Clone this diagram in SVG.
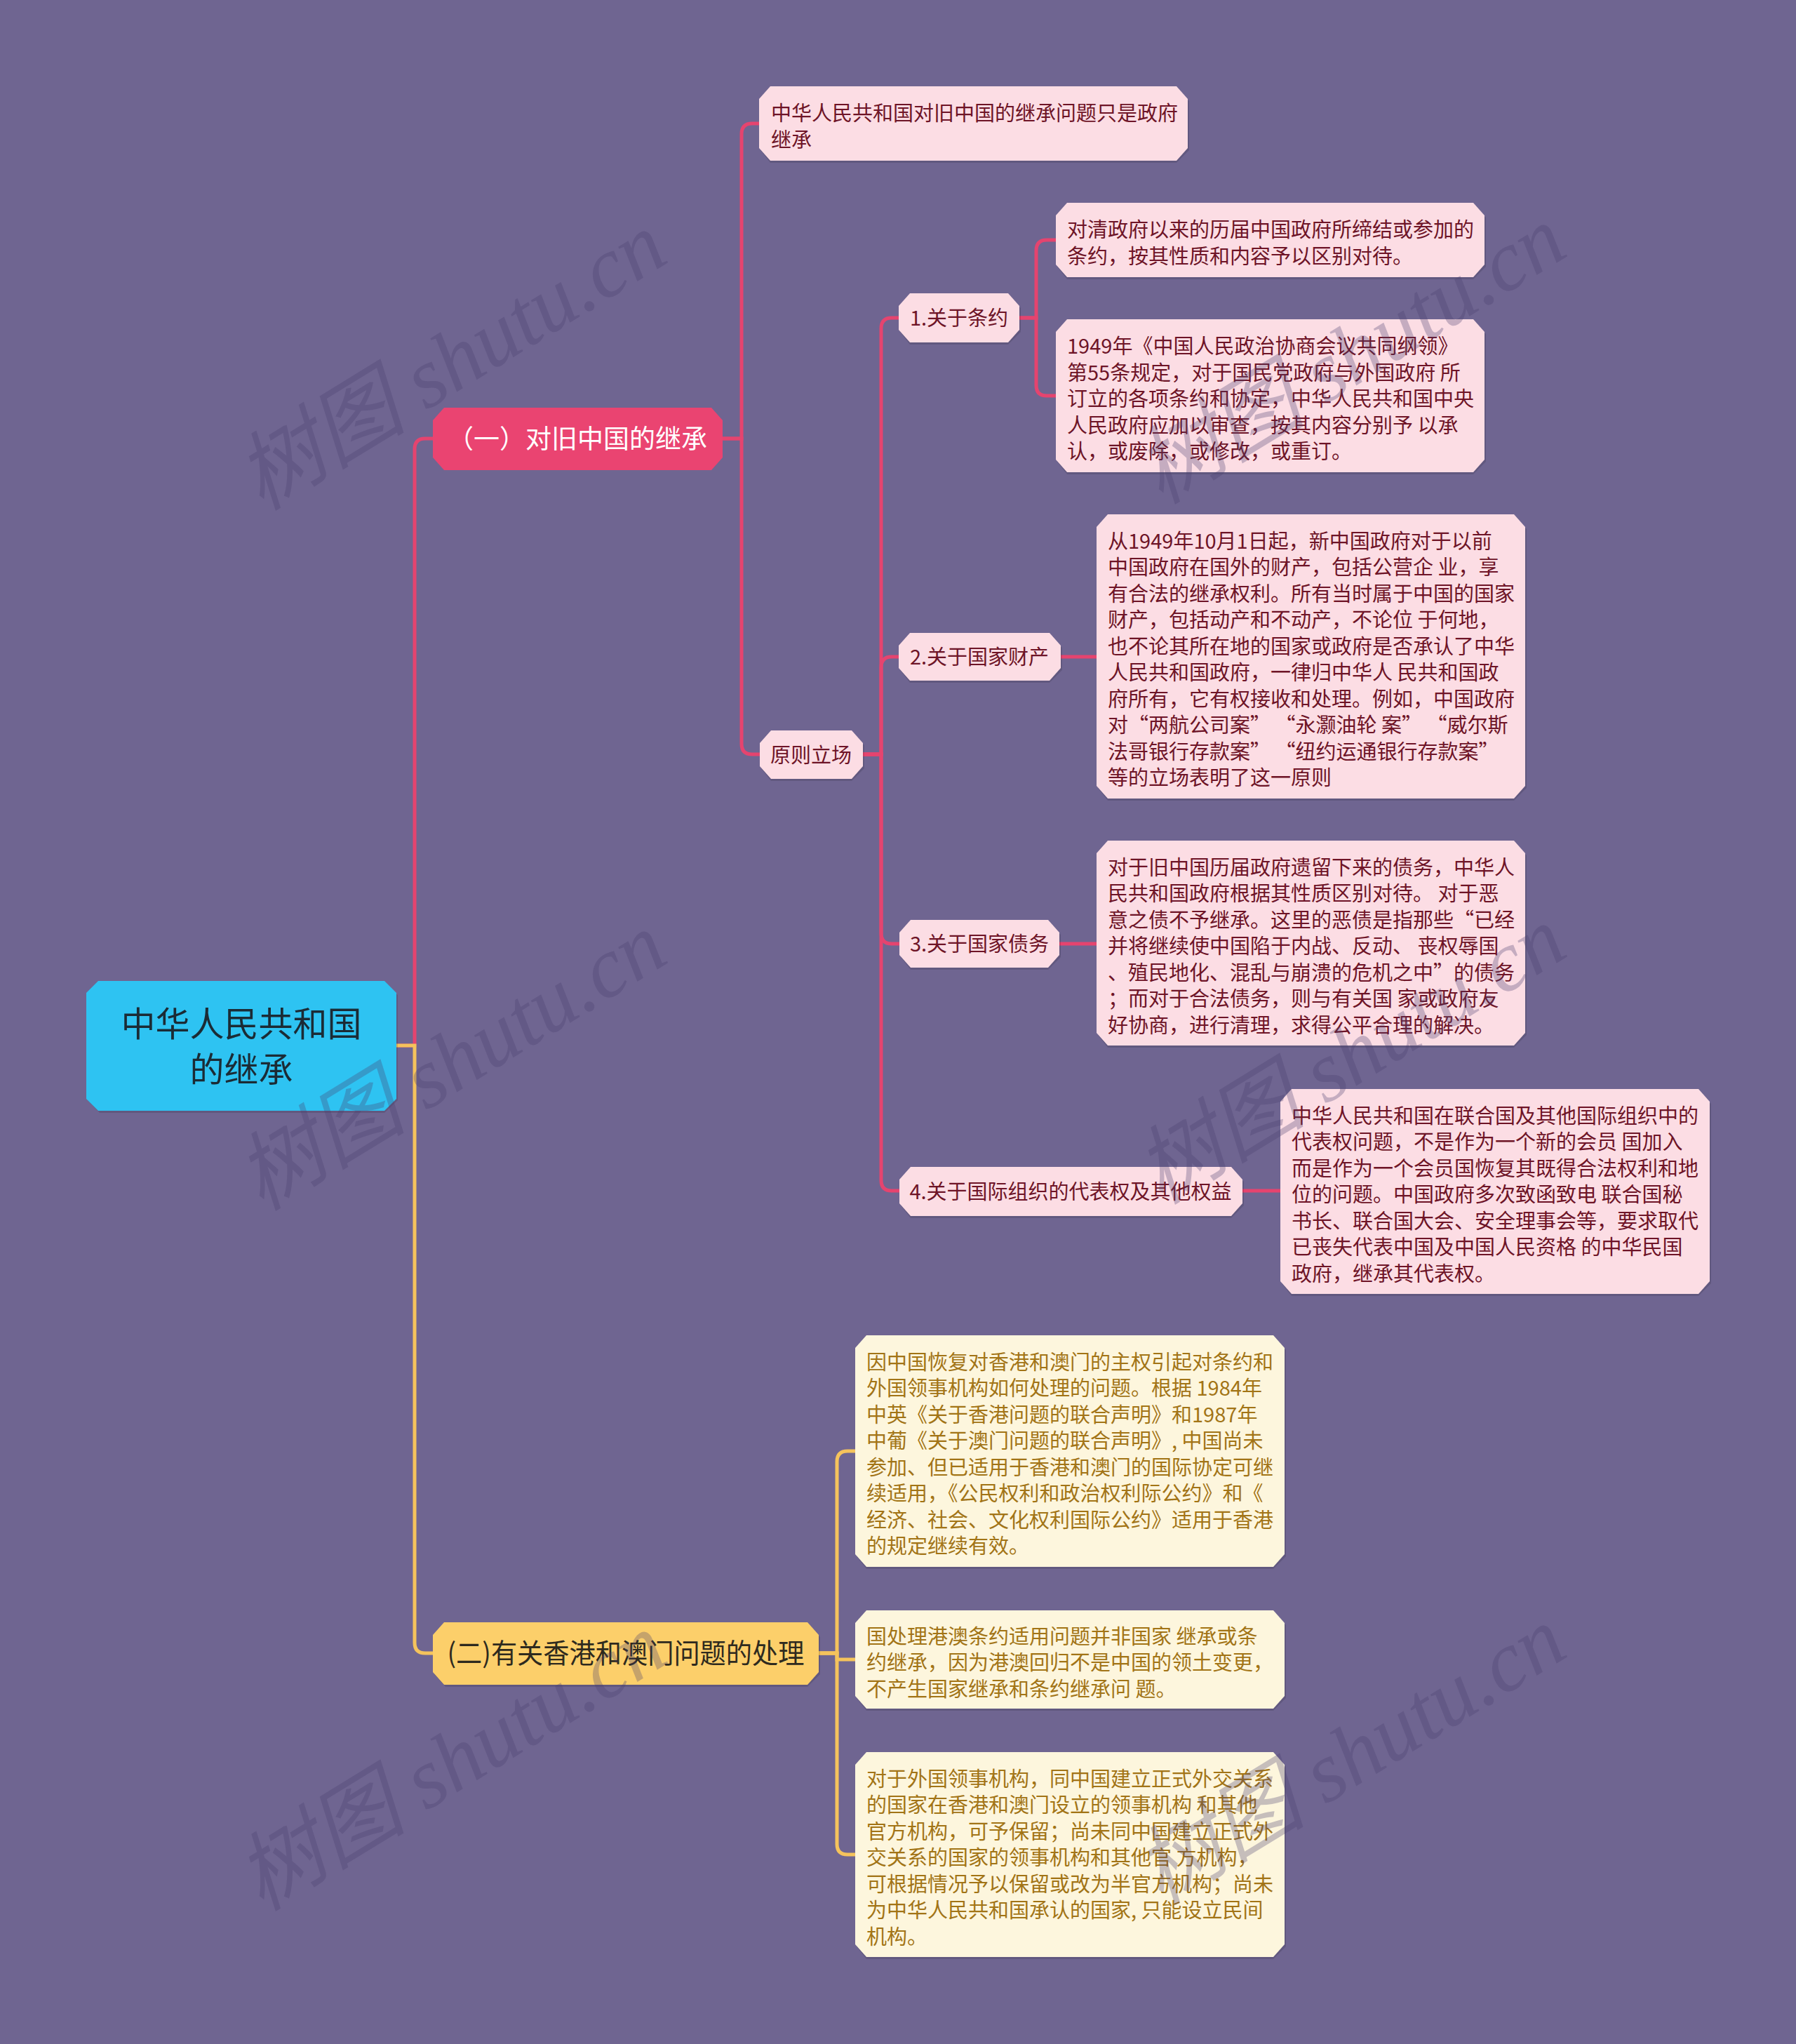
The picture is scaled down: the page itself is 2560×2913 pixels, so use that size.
<svg xmlns="http://www.w3.org/2000/svg" width="2560" height="2913" viewBox="0 0 2560 2913">
<style>
.bg{fill:#6f6591}
.cr{fill:none;stroke:#e5446f;stroke-width:5}
.cy{fill:none;stroke:#f5c35c;stroke-width:5}
.sh{fill:#000;opacity:0.12}
.root{fill:#2ec3f2}
.red{fill:#ea4471}
.pink{fill:#fcdde4}
.yel{fill:#fccf6a}
.cream{fill:#fdf6dd}
text{font-family:"Noto Sans CJK SC","Noto Sans",sans-serif}
.tr{font-size:49px;fill:#1b2b35;text-anchor:middle}
.t1{font-size:37px;fill:#ffffff;text-anchor:middle}
.t2{font-size:39px;fill:#2e2a1e;text-anchor:middle}
.tl{font-size:29px;fill:#6e1427;text-anchor:middle}
.tp{font-size:29px;fill:#6e1427}
.tc{font-size:29px;fill:#a27416}
.wm{font-family:"Liberation Serif","Noto Sans CJK SC",serif;font-style:italic;font-size:122px;fill:#4a3f6e;opacity:0.3;text-anchor:middle}
</style>
<rect class="bg" x="0" y="0" width="2560" height="2913"/>
<g id="connectors">
<path class="cr" d="M565,1490 H591 V640 Q591,625 606,625 H617"/>
<path class="cr" d="M1030,625 H1057 V191 Q1057,176 1072,176 H1082"/>
<path class="cr" d="M1030,625 H1057 V1060 Q1057,1075 1072,1075 H1083"/>
<path class="cr" d="M1230,1075 H1256 V468 Q1256,453 1271,453 H1281"/>
<path class="cr" d="M1230,1075 H1256 V951 Q1256,936 1271,936 H1281"/>
<path class="cr" d="M1230,1075 H1256 V1330 Q1256,1345 1271,1345 H1282"/>
<path class="cr" d="M1230,1075 H1256 V1682 Q1256,1697 1271,1697 H1282"/>
<path class="cr" d="M1453,453 H1477 V357 Q1477,342 1492,342 H1505"/>
<path class="cr" d="M1453,453 H1477 V549 Q1477,564 1492,564 H1505"/>
<path class="cr" d="M1512,936 H1563"/>
<path class="cr" d="M1510,1345 H1563"/>
<path class="cr" d="M1771,1697 H1825"/>
<path class="cy" d="M565,1490 H591 V2341 Q591,2356 606,2356 H617"/>
<path class="cy" d="M1167,2356 H1193 V2083 Q1193,2068 1208,2068 H1219"/>
<path class="cy" d="M1167,2356 H1193 V2365 H1219"/>
<path class="cy" d="M1167,2356 H1193 V2628 Q1193,2643 1208,2643 H1219"/>
</g>
<g id="root">
<polygon class="sh" points="142,1401 548,1401 567,1418 567,1568 548,1586 142,1586 125,1568 125,1418"/>
<polygon class="root" points="140,1398 548,1398 565,1415 565,1566 548,1583 140,1583 123,1566 123,1415"/>
<text class="tr" x="344" y="1477">中华人民共和国</text>
<text class="tr" x="344" y="1542">的继承</text>
</g>
<g id="n1">
<polygon class="red" points="633,581 1014,581 1030,599 1030,652 1014,670 633,670 617,652 617,599"/>
<text class="t1" x="823" y="639">（一）对旧中国的继承</text>
</g>
<g id="n1-0">
<polygon class="sh" points="1098,126 1677,126 1695,144 1695,214 1677,232 1098,232 1084,214 1084,144"/>
<polygon class="pink" points="1098,123 1677,123 1693,141 1693,211 1677,229 1098,229 1082,211 1082,141"/>
<text class="tp" x="1099" y="172">中华人民共和国对旧中国的继承问题只是政府</text>
<text class="tp" x="1099" y="210">继承</text>
</g>
<g id="n1-1">
<polygon class="sh" points="1099,1044 1214,1044 1232,1062 1232,1095 1214,1113 1099,1113 1085,1095 1085,1062"/>
<polygon class="pink" points="1099,1041 1214,1041 1230,1059 1230,1092 1214,1110 1099,1110 1083,1092 1083,1059"/>
<text class="tl" x="1156" y="1087">原则立场</text>
</g>
<g id="n1-1-1">
<polygon class="sh" points="1297,421 1437,421 1455,439 1455,473 1437,491 1297,491 1283,473 1283,439"/>
<polygon class="pink" points="1297,418 1437,418 1453,436 1453,470 1437,488 1297,488 1281,470 1281,436"/>
<text class="tl" x="1367" y="464">1.关于条约</text>
</g>
<g id="n1-1-1a">
<polygon class="sh" points="1521,292 2100,292 2118,310 2118,380 2100,398 1521,398 1507,380 1507,310"/>
<polygon class="pink" points="1521,289 2100,289 2116,307 2116,377 2100,395 1521,395 1505,377 1505,307"/>
<text class="tp" x="1521" y="338">对清政府以来的历届中国政府所缔结或参加的</text>
<text class="tp" x="1521" y="376">条约，按其性质和内容予以区别对待。</text>
</g>
<g id="n1-1-1b">
<polygon class="sh" points="1521,458 2100,458 2118,476 2118,658 2100,676 1521,676 1507,658 1507,476"/>
<polygon class="pink" points="1521,455 2100,455 2116,473 2116,655 2100,673 1521,673 1505,655 1505,473"/>
<text class="tp" x="1521" y="504">1949年《中国人民政治协商会议共同纲领》</text>
<text class="tp" x="1521" y="541.5">第55条规定，对于国民党政府与外国政府 所</text>
<text class="tp" x="1521" y="579">订立的各项条约和协定，中华人民共和国中央</text>
<text class="tp" x="1521" y="616.5">人民政府应加以审查，按其内容分别予 以承</text>
<text class="tp" x="1521" y="654">认，或废除，或修改，或重订。</text>
</g>
<g id="n1-1-2">
<polygon class="sh" points="1297,905 1496,905 1514,923 1514,955 1496,973 1297,973 1283,955 1283,923"/>
<polygon class="pink" points="1297,902 1496,902 1512,920 1512,952 1496,970 1297,970 1281,952 1281,920"/>
<text class="tl" x="1396" y="947">2.关于国家财产</text>
</g>
<g id="n1-1-2a">
<polygon class="sh" points="1579,736 2158,736 2176,754 2176,1123 2158,1141 1579,1141 1565,1123 1565,754"/>
<polygon class="pink" points="1579,733 2158,733 2174,751 2174,1120 2158,1138 1579,1138 1563,1120 1563,751"/>
<text class="tp" x="1579" y="781.7">从1949年10月1日起，新中国政府对于以前</text>
<text class="tp" x="1579" y="819.2">中国政府在国外的财产，包括公营企 业，享</text>
<text class="tp" x="1579" y="856.7">有合法的继承权利。所有当时属于中国的国家</text>
<text class="tp" x="1579" y="894.2">财产，包括动产和不动产，不论位 于何地，</text>
<text class="tp" x="1579" y="931.7">也不论其所在地的国家或政府是否承认了中华</text>
<text class="tp" x="1579" y="969.2">人民共和国政府，一律归中华人 民共和国政</text>
<text class="tp" x="1579" y="1006.7">府所有，它有权接收和处理。例如，中国政府</text>
<text class="tp" x="1579" y="1044.2">对“两航公司案” “永灏油轮 案” “威尔斯</text>
<text class="tp" x="1579" y="1081.7">法哥银行存款案” “纽约运通银行存款案”</text>
<text class="tp" x="1579" y="1119.2">等的立场表明了这一原则</text>
</g>
<g id="n1-1-3">
<polygon class="sh" points="1298,1314 1494,1314 1512,1332 1512,1364 1494,1382 1298,1382 1284,1364 1284,1332"/>
<polygon class="pink" points="1298,1311 1494,1311 1510,1329 1510,1361 1494,1379 1298,1379 1282,1361 1282,1329"/>
<text class="tl" x="1396" y="1356">3.关于国家债务</text>
</g>
<g id="n1-1-3a">
<polygon class="sh" points="1579,1201 2158,1201 2176,1219 2176,1475 2158,1493 1579,1493 1565,1475 1565,1219"/>
<polygon class="pink" points="1579,1198 2158,1198 2174,1216 2174,1472 2158,1490 1579,1490 1563,1472 1563,1216"/>
<text class="tp" x="1579" y="1246.5">对于旧中国历届政府遗留下来的债务，中华人</text>
<text class="tp" x="1579" y="1284">民共和国政府根据其性质区别对待。 对于恶</text>
<text class="tp" x="1579" y="1321.5">意之债不予继承。这里的恶债是指那些“已经</text>
<text class="tp" x="1579" y="1359">并将继续使中国陷于内战、反动、 丧权辱国</text>
<text class="tp" x="1579" y="1396.5">、殖民地化、混乱与崩溃的危机之中”的债务</text>
<text class="tp" x="1579" y="1434">；而对于合法债务，则与有关国 家或政府友</text>
<text class="tp" x="1579" y="1471.5">好协商，进行清理，求得公平合理的解决。</text>
</g>
<g id="n1-1-4">
<polygon class="sh" points="1298,1666 1755,1666 1773,1684 1773,1718 1755,1736 1298,1736 1284,1718 1284,1684"/>
<polygon class="pink" points="1298,1663 1755,1663 1771,1681 1771,1715 1755,1733 1298,1733 1282,1715 1282,1681"/>
<text class="tl" x="1526" y="1709">4.关于国际组织的代表权及其他权益</text>
</g>
<g id="n1-1-4a">
<polygon class="sh" points="1841,1555 2421,1555 2439,1573 2439,1829 2421,1847 1841,1847 1827,1829 1827,1573"/>
<polygon class="pink" points="1841,1552 2421,1552 2437,1570 2437,1826 2421,1844 1841,1844 1825,1826 1825,1570"/>
<text class="tp" x="1841" y="1600.5">中华人民共和国在联合国及其他国际组织中的</text>
<text class="tp" x="1841" y="1638">代表权问题，不是作为一个新的会员 国加入</text>
<text class="tp" x="1841" y="1675.5">而是作为一个会员国恢复其既得合法权利和地</text>
<text class="tp" x="1841" y="1713">位的问题。中国政府多次致函致电 联合国秘</text>
<text class="tp" x="1841" y="1750.5">书长、联合国大会、安全理事会等，要求取代</text>
<text class="tp" x="1841" y="1788">已丧失代表中国及中国人民资格 的中华民国</text>
<text class="tp" x="1841" y="1825.5">政府，继承其代表权。</text>
</g>
<g id="n2">
<polygon class="sh" points="635,2315 1151,2315 1169,2333 1169,2386 1151,2404 635,2404 619,2386 619,2333"/>
<polygon class="yel" points="633,2312 1151,2312 1167,2330 1167,2383 1151,2401 633,2401 617,2383 617,2330"/>
<text class="t2" x="892" y="2370" textLength="509" lengthAdjust="spacingAndGlyphs">(二)有关香港和澳门问题的处理</text>
</g>
<g id="n2-1">
<polygon class="sh" points="1235,1906 1815,1906 1833,1924 1833,2218 1815,2236 1235,2236 1221,2218 1221,1924"/>
<polygon class="cream" points="1235,1903 1815,1903 1831,1921 1831,2215 1815,2233 1235,2233 1219,2215 1219,1921"/>
<text class="tc" x="1235" y="1951.7">因中国恢复对香港和澳门的主权引起对条约和</text>
<text class="tc" x="1235" y="1989.2">外国领事机构如何处理的问题。根据 1984年</text>
<text class="tc" x="1235" y="2026.7">中英《关于香港问题的联合声明》和1987年</text>
<text class="tc" x="1235" y="2064.2">中葡《关于澳门问题的联合声明》, 中国尚未</text>
<text class="tc" x="1235" y="2101.7">参加、但已适用于香港和澳门的国际协定可继</text>
<text class="tc" x="1235" y="2139.2">续适用，《公民权利和政治权利际公约》和《</text>
<text class="tc" x="1235" y="2176.7">经济、社会、文化权利国际公约》适用于香港</text>
<text class="tc" x="1235" y="2214.2">的规定继续有效。</text>
</g>
<g id="n2-2">
<polygon class="sh" points="1235,2298 1815,2298 1833,2316 1833,2420 1815,2438 1235,2438 1221,2420 1221,2316"/>
<polygon class="cream" points="1235,2295 1815,2295 1831,2313 1831,2417 1815,2435 1235,2435 1219,2417 1219,2313"/>
<text class="tc" x="1235" y="2342.5">国处理港澳条约适用问题并非国家 继承或条</text>
<text class="tc" x="1235" y="2380">约继承，因为港澳回归不是中国的领土变更，</text>
<text class="tc" x="1235" y="2417.5">不产生国家继承和条约继承问 题。</text>
</g>
<g id="n2-3">
<polygon class="sh" points="1235,2500 1815,2500 1833,2518 1833,2774 1815,2792 1235,2792 1221,2774 1221,2518"/>
<polygon class="cream" points="1235,2497 1815,2497 1831,2515 1831,2771 1815,2789 1235,2789 1219,2771 1219,2515"/>
<text class="tc" x="1235" y="2545.5">对于外国领事机构，同中国建立正式外交关系</text>
<text class="tc" x="1235" y="2583">的国家在香港和澳门设立的领事机构 和其他</text>
<text class="tc" x="1235" y="2620.5">官方机构，可予保留；尚未同中国建立正式外</text>
<text class="tc" x="1235" y="2658">交关系的国家的领事机构和其他官 方机构，</text>
<text class="tc" x="1235" y="2695.5">可根据情况予以保留或改为半官方机构；尚未</text>
<text class="tc" x="1235" y="2733">为中华人民共和国承认的国家, 只能设立民间</text>
<text class="tc" x="1235" y="2770.5">机构。</text>
</g>
<g id="watermarks">
<text class="wm" x="644" y="556" transform="rotate(-31.5 644 516)">树图 shutu.cn</text>
<text class="wm" x="1926" y="547" transform="rotate(-31.5 1926 507)">树图 shutu.cn</text>
<text class="wm" x="644" y="1554" transform="rotate(-31.5 644 1514)">树图 shutu.cn</text>
<text class="wm" x="1926" y="1545" transform="rotate(-31.5 1926 1505)">树图 shutu.cn</text>
<text class="wm" x="644" y="2552" transform="rotate(-31.5 644 2512)">树图 shutu.cn</text>
<text class="wm" x="1926" y="2543" transform="rotate(-31.5 1926 2503)">树图 shutu.cn</text>
</g>
</svg>
